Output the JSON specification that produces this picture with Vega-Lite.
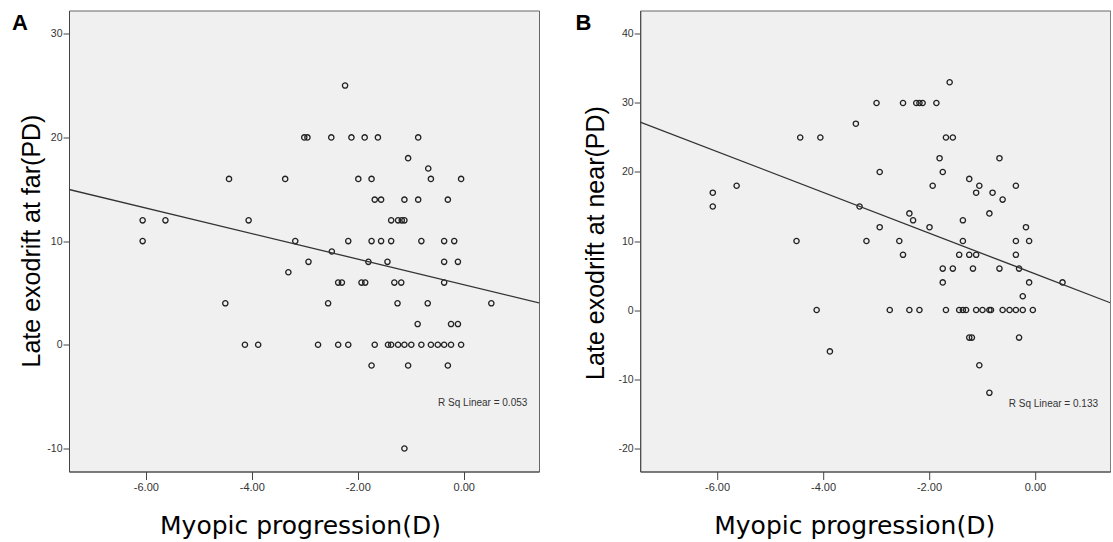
{
  "$schema": "https://vega.github.io/schema/vega-lite/v6.json",
  "background": "white",
  "padding": {"left": 11, "top": 9.5, "right": 0, "bottom": 0},
  "spacing": 34.2,
  "config": {
    "view": {"fill": "#f0f0f0", "stroke": "#666", "strokeWidth": 1},
    "axis": {"grid": false, "domainColor": "#444", "tickColor": "#444", "labelColor": "#333", "labelFont": "Liberation Sans", "titleColor": "#000", "titleFontWeight": "normal"},
    "title": {"font": "Liberation Sans", "fontSize": 22, "fontWeight": "bold", "color": "#000"}
  },
  "datasets": {
    "ptsA": [
      {"x": -6.06, "y": 12}, {"x": -6.06, "y": 10}, {"x": -5.63, "y": 12}, {"x": -4.50, "y": 4}, {"x": -4.43, "y": 16},
      {"x": -4.13, "y": 0}, {"x": -4.06, "y": 12}, {"x": -3.88, "y": 0}, {"x": -3.37, "y": 16}, {"x": -3.31, "y": 7},
      {"x": -3.18, "y": 10}, {"x": -3.01, "y": 20}, {"x": -2.95, "y": 20}, {"x": -2.93, "y": 8}, {"x": -2.75, "y": 0},
      {"x": -2.56, "y": 4}, {"x": -2.50, "y": 20}, {"x": -2.49, "y": 9}, {"x": -2.37, "y": 6}, {"x": -2.30, "y": 6},
      {"x": -2.37, "y": 0}, {"x": -2.24, "y": 25}, {"x": -2.18, "y": 10}, {"x": -2.18, "y": 0}, {"x": -2.12, "y": 20},
      {"x": -1.99, "y": 16}, {"x": -1.93, "y": 6}, {"x": -1.86, "y": 6}, {"x": -1.87, "y": 20}, {"x": -1.80, "y": 8},
      {"x": -1.74, "y": 16}, {"x": -1.74, "y": 10}, {"x": -1.74, "y": -2}, {"x": -1.68, "y": 14}, {"x": -1.68, "y": 0},
      {"x": -1.62, "y": 20}, {"x": -1.56, "y": 14}, {"x": -1.56, "y": 10}, {"x": -1.44, "y": 8}, {"x": -1.43, "y": 0},
      {"x": -1.37, "y": 12}, {"x": -1.37, "y": 10}, {"x": -1.37, "y": 0}, {"x": -1.31, "y": 6}, {"x": -1.25, "y": 4},
      {"x": -1.24, "y": 12}, {"x": -1.24, "y": 0}, {"x": -1.18, "y": 6}, {"x": -1.17, "y": 12}, {"x": -1.12, "y": 14},
      {"x": -1.12, "y": 12}, {"x": -1.12, "y": 0}, {"x": -1.12, "y": -10}, {"x": -1.05, "y": 18}, {"x": -1.05, "y": -2},
      {"x": -0.99, "y": 0}, {"x": -0.87, "y": 2}, {"x": -0.86, "y": 20}, {"x": -0.86, "y": 14}, {"x": -0.80, "y": 10},
      {"x": -0.80, "y": 0}, {"x": -0.68, "y": 4}, {"x": -0.67, "y": 17}, {"x": -0.62, "y": 16}, {"x": -0.62, "y": 0},
      {"x": -0.49, "y": 0}, {"x": -0.37, "y": 10}, {"x": -0.37, "y": 8}, {"x": -0.37, "y": 6}, {"x": -0.37, "y": 0},
      {"x": -0.30, "y": 14}, {"x": -0.30, "y": -2}, {"x": -0.24, "y": 2}, {"x": -0.24, "y": 0}, {"x": -0.18, "y": 10},
      {"x": -0.11, "y": 8}, {"x": -0.11, "y": 2}, {"x": -0.05, "y": 16}, {"x": -0.05, "y": 0}, {"x": 0.52, "y": 4}
    ],
    "ptsB": [
      {"x": -6.08, "y": 17}, {"x": -6.08, "y": 15}, {"x": -5.63, "y": 18}, {"x": -4.50, "y": 10}, {"x": -4.43, "y": 25},
      {"x": -4.12, "y": 0}, {"x": -4.05, "y": 25}, {"x": -3.87, "y": -6}, {"x": -3.38, "y": 27}, {"x": -3.31, "y": 15},
      {"x": -3.18, "y": 10}, {"x": -2.99, "y": 30}, {"x": -2.93, "y": 20}, {"x": -2.93, "y": 12}, {"x": -2.74, "y": 0},
      {"x": -2.56, "y": 10}, {"x": -2.49, "y": 30}, {"x": -2.49, "y": 8}, {"x": -2.37, "y": 14}, {"x": -2.37, "y": 0},
      {"x": -2.30, "y": 13}, {"x": -2.24, "y": 30}, {"x": -2.18, "y": 30}, {"x": -2.18, "y": 0}, {"x": -2.12, "y": 30},
      {"x": -1.99, "y": 12}, {"x": -1.93, "y": 18}, {"x": -1.86, "y": 30}, {"x": -1.80, "y": 22}, {"x": -1.74, "y": 20},
      {"x": -1.74, "y": 6}, {"x": -1.74, "y": 4}, {"x": -1.68, "y": 25}, {"x": -1.68, "y": 0}, {"x": -1.61, "y": 33},
      {"x": -1.55, "y": 25}, {"x": -1.55, "y": 6}, {"x": -1.43, "y": 8}, {"x": -1.43, "y": 0}, {"x": -1.36, "y": 13},
      {"x": -1.36, "y": 10}, {"x": -1.36, "y": 0}, {"x": -1.30, "y": 0}, {"x": -1.24, "y": 19}, {"x": -1.24, "y": 8},
      {"x": -1.24, "y": -4}, {"x": -1.19, "y": -4}, {"x": -1.17, "y": 6}, {"x": -1.11, "y": 17}, {"x": -1.11, "y": 8},
      {"x": -1.11, "y": 0}, {"x": -1.05, "y": 18}, {"x": -1.05, "y": -8}, {"x": -0.99, "y": 0}, {"x": -0.86, "y": 14},
      {"x": -0.86, "y": 0}, {"x": -0.86, "y": -12}, {"x": -0.83, "y": 0}, {"x": -0.80, "y": 17}, {"x": -0.67, "y": 22},
      {"x": -0.67, "y": 6}, {"x": -0.61, "y": 16}, {"x": -0.61, "y": 0}, {"x": -0.48, "y": 0}, {"x": -0.36, "y": 18},
      {"x": -0.36, "y": 10}, {"x": -0.36, "y": 8}, {"x": -0.36, "y": 0}, {"x": -0.30, "y": 6}, {"x": -0.30, "y": -4},
      {"x": -0.23, "y": 2}, {"x": -0.23, "y": 0}, {"x": -0.17, "y": 12}, {"x": -0.11, "y": 10}, {"x": -0.11, "y": 4},
      {"x": -0.04, "y": 0}, {"x": 0.52, "y": 4}
    ],
    "fitA": [{"x": -7.45, "y": 14.98}, {"x": 1.42, "y": 4.05}],
    "fitB": [{"x": -7.45, "y": 27.24}, {"x": 1.42, "y": 1.05}],
    "noteA": [{"x": 1.2, "y": -5.66, "label": "R Sq Linear = 0.053"}],
    "noteB": [{"x": 1.19, "y": -13.56, "label": "R Sq Linear = 0.133"}]
  },
  "hconcat": [
    {
      "width": 470,
      "height": 461,
      "title": {"text": "A", "anchor": "start", "frame": "group", "baseline": "top", "offset": -24, "dx": -57},
      "layer": [
        {
          "data": {"name": "ptsA"},
          "mark": {"type": "point", "shape": "circle", "filled": false, "size": 28, "strokeWidth": 1.3, "color": "#222", "opacity": 1},
          "encoding": {
            "x": {"field": "x", "type": "quantitative", "scale": {"domain": [-7.45, 1.42], "nice": false, "zero": false},
              "axis": {"values": [-6, -4, -2, 0], "labelExpr": "(datum.value < 0 ? '-' : '') + format(abs(datum.value), '.2f')", "labelFontSize": 11, "tickSize": 8, "labelPadding": 2,
                "title": "Myopic progression(D)", "titleFont": "DejaVu Sans", "titleFontSize": 25, "titleBaseline": "alphabetic", "titleY": 62, "titleX": 231}},
            "y": {"field": "y", "type": "quantitative", "scale": {"domain": [-12.22, 32.24], "nice": false, "zero": false},
              "axis": {"values": [-10, 0, 10, 20, 30], "labelExpr": "(datum.value < 0 ? '-' : '') + format(abs(datum.value), 'd')", "labelFontSize": 10.5, "tickSize": 6, "labelPadding": 1,
                "title": "Late exodrift at far(PD)", "titleFont": "Liberation Sans", "titleFontSize": 25, "titleBaseline": "alphabetic", "titleX": -30, "titleY": 230}}
          }
        },
        {
          "data": {"name": "fitA"},
          "mark": {"type": "line", "color": "#333", "strokeWidth": 1.3, "clip": true},
          "encoding": {"x": {"field": "x", "type": "quantitative"}, "y": {"field": "y", "type": "quantitative"}}
        },
        {
          "data": {"name": "noteA"},
          "mark": {"type": "text", "align": "right", "baseline": "middle", "font": "Liberation Sans", "fontSize": 10, "color": "#333"},
          "encoding": {"x": {"field": "x", "type": "quantitative"}, "y": {"field": "y", "type": "quantitative"}, "text": {"field": "label"}}
        }
      ]
    },
    {
      "width": 470,
      "height": 461,
      "title": {"text": "B", "anchor": "start", "frame": "group", "baseline": "top", "offset": -24, "dx": -64.7},
      "layer": [
        {
          "data": {"name": "ptsB"},
          "mark": {"type": "point", "shape": "circle", "filled": false, "size": 28, "strokeWidth": 1.3, "color": "#222", "opacity": 1},
          "encoding": {
            "x": {"field": "x", "type": "quantitative", "scale": {"domain": [-7.45, 1.42], "nice": false, "zero": false},
              "axis": {"values": [-6, -4, -2, 0], "labelExpr": "(datum.value < 0 ? '-' : '') + format(abs(datum.value), '.2f')", "labelFontSize": 11, "tickSize": 8, "labelPadding": 2,
                "title": "Myopic progression(D)", "titleFont": "DejaVu Sans", "titleFontSize": 25, "titleBaseline": "alphabetic", "titleY": 62, "titleX": 214}},
            "y": {"field": "y", "type": "quantitative", "scale": {"domain": [-23.4, 43.4], "nice": false, "zero": false},
              "axis": {"values": [-20, -10, 0, 10, 20, 30, 40], "labelExpr": "(datum.value < 0 ? '-' : '') + format(abs(datum.value), 'd')", "labelFontSize": 10.5, "tickSize": 6, "labelPadding": 1,
                "title": "Late exodrift at near(PD)", "titleFont": "Liberation Sans", "titleFontSize": 25, "titleBaseline": "alphabetic", "titleX": -36.7, "titleY": 232}}
          }
        },
        {
          "data": {"name": "fitB"},
          "mark": {"type": "line", "color": "#333", "strokeWidth": 1.3, "clip": true},
          "encoding": {"x": {"field": "x", "type": "quantitative"}, "y": {"field": "y", "type": "quantitative"}}
        },
        {
          "data": {"name": "noteB"},
          "mark": {"type": "text", "align": "right", "baseline": "middle", "font": "Liberation Sans", "fontSize": 10, "color": "#333"},
          "encoding": {"x": {"field": "x", "type": "quantitative"}, "y": {"field": "y", "type": "quantitative"}, "text": {"field": "label"}}
        }
      ]
    }
  ]
}
